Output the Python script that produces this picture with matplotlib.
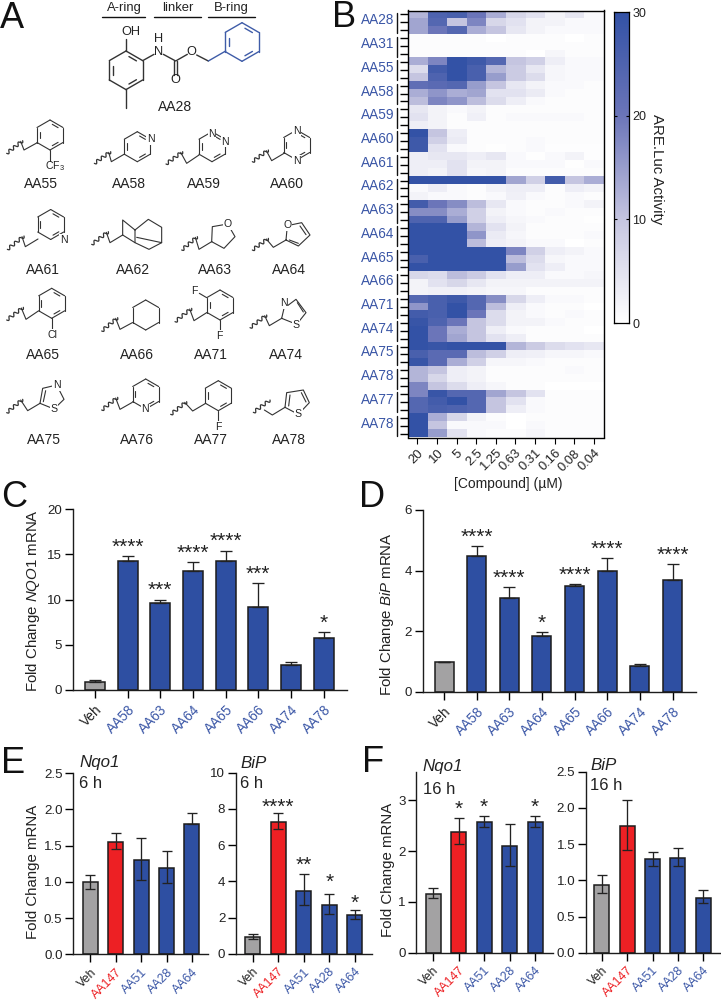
import numpy as np
import matplotlib
matplotlib.use('Agg')
import matplotlib.pyplot as plt
from matplotlib.colors import LinearSegmentedColormap

plt.rcParams['font.family'] = ['Liberation Sans', 'DejaVu Sans']
plt.rcParams['mathtext.fontset'] = 'custom'
plt.rcParams['mathtext.it'] = 'Liberation Sans:italic'
plt.rcParams['mathtext.rm'] = 'Liberation Sans'
plt.rcParams['text.color'] = '#222222'

W, H = 721, 1000
BLUE, RED, GREY = '#2E4FA2', '#ED2024', '#A3A2A3'
TXTBLUE = '#3A56A6'

# ---------- Heatmap data ----------
heat_labels = ['AA28', 'AA31', 'AA55', 'AA58', 'AA59', 'AA60', 'AA61', 'AA62', 'AA63',
               'AA64', 'AA65', 'AA66', 'AA71', 'AA74', 'AA75', 'AA78', 'AA77', 'AA78']
heat_conc = ['20', '10', '5', '2.5', '1.25', '0.63', '0.31', '0.16', '0.08', '0.04']
heat_values = [
    [12, 25, 26, 20, 13, 7, 5, 2, 4, 1], [14, 24, 10, 18, 7, 5, 2, 2, 1, 1], [14, 20, 24, 13, 10, 4, 2, 1, 1, 1],
    [.5, .5, .5, .5, 0, .5, .5, .5, 0, .5], [.5, .5, .5, .5, .5, .5, .5, .5, .5, .5], [.5, .5, .5, .5, .5, .5, 0, 1.5, .5, .5],
    [13, 18, 30, 28, 24, 10, 8, 3, 1, 1], [6, 27, 30, 26, 12, 9, 4, 1.5, 1, 1], [10, 25, 30, 26, 15, 9, 6, 1.5, 1, 1],
    [22, 23, 24, 15, 10, 4, 2, 1, 1, .5], [13, 16, 13, 14, 5, 5, 3.5, 1, .5, .5], [11, 18, 16, 11, 6, 3, 1, .5, .5, .5],
    [4, 2, 1, 2, .5, .5, .5, .5, .5, .5], [5, 2, .5, 2.5, .5, 1, 1, 1, 1, .5], [3, 2, .5, .5, .5, .5, .5, .5, .5, .5],
    [30, 10, 3, .5, .5, .5, .5, .5, .5, .5], [28, 8, 3.5, .5, .5, .5, 1, .5, .5, .5], [28, 5, 1, .5, .2, .5, 1, .3, .3, .3],
    [3, 4, 4, 3, 4, 1, .2, 1, 2, .3], [3, 3, 5, 2, 2, 1, 1, 1, .2, 1], [3, 2, 5, 1.5, 2, .5, .5, .5, .5, .5],
    [30, 30, 30, 30, 30, 14, 8, 27, 10, 13], [1, 3, 1, .5, 2, 3, 3, .5, 3, 2], [2, 1, 1, .5, 1, 2.5, 1, .5, 1, .5],
    [27, 20, 17, 11, 4, 1, .5, .5, 1, 2], [17, 17, 13, 8, 2, 1, .5, 1, .5, .5], [25, 25, 15, 8, 3, 1.5, 1, .5, .5, .2],
    [30, 30, 30, 12, 5, 2, .5, .5, .5, .5], [30, 30, 30, 16, 3.5, 1.5, .5, .5, .5, 1], [30, 30, 30, 11, 3, 2, 1, 1, 0, .5],
    [30, 30, 30, 30, 30, 18, 8, 3, 2, 1], [26, 30, 30, 30, 30, 11, 6, 1.5, 1, 1], [30, 30, 30, 30, 30, 15, 5, 3, 1, 1],
    [7, 6, 11, 9, 5, 3, 3, 1, 1, 1.5], [2, 5, 7, 4, 2, 2, 2, 2, 2, 2], [2, 2.5, 2.5, 2, 1.5, 1.5, .5, .5, .5, .5],
    [24, 26, 28, 24, 17, 7, 3, 1, 1, .5], [16, 26, 30, 24, 11, 3, 1, .5, .5, 0], [27, 26, 30, 20, 6, 2, 1, .5, 1, .5],
    [29, 25, 20, 10, 6, 2, 2, 1, .5, .5], [30, 20, 13, 10, 3, 1, .5, .5, .5, 0], [30, 20, 14, 10, 5, 3, .5, .5, .5, .5],
    [30, 29, 30, 30, 30, 12, 9, 6, 5, 4], [26, 23, 23, 11, 8, 3, 2.5, 1.5, 1.5, 1], [29, 23, 13, 8, 1.5, 1.5, 1, .5, .5, .5],
    [12, 10, 3, 2, .5, .5, .5, .5, 1, .5], [12, 7, 3, 2, .5, .5, .5, .5, .5, .5], [18, 10, 6, 3, 1.5, .5, .5, 0, 0, 0],
    [18, 29, 24, 24, 14, 10, 5, .5, .5, .5], [24, 27, 30, 24, 10, 5, 1, .5, .5, .5], [24, 26, 25, 24, 10, 3, 1, .5, .5, .5],
    [30, 13, 7, 2, .5, 0, .5, .5, .5, .5], [30, 10, 1, 1, 1, 0, 1, .5, .5, .5], [30, 15, 5, 1, .5, .5, 1.5, .5, .5, .5],
]

# ---------- Bar data ----------
c_names = ['Veh', 'AA58', 'AA63', 'AA64', 'AA65', 'AA66', 'AA74', 'AA78']
c_vals = [0.9, 14.2, 9.6, 13.2, 14.2, 9.2, 2.8, 5.7]
c_tops = [1.1, 14.8, 10.0, 14.1, 15.4, 11.8, 3.1, 6.4]
c_stars = ['', '****', '***', '****', '****', '***', '', '*']

d_names = ['Veh', 'AA58', 'AA63', 'AA64', 'AA65', 'AA66', 'AA74', 'AA78']
d_vals = [1.0, 4.5, 3.1, 1.85, 3.5, 4.0, 0.87, 3.68]
d_tops = [1.0, 4.8, 3.45, 1.97, 3.55, 4.42, 0.92, 4.22]
d_stars = ['', '****', '****', '*', '****', '****', '', '****']

ef_names = ['Veh', 'AA147', 'AA51', 'AA28', 'AA64']
e1_vals = [1.0, 1.55, 1.3, 1.19, 1.79]
e1_tops = [1.10, 1.67, 1.60, 1.42, 1.95]
e1_lows = [0.90, 1.45, 1.02, 0.98, 1.79]
e2_vals = [0.95, 7.27, 3.5, 2.68, 2.13]
e2_tops = [1.1, 7.77, 4.42, 3.3, 2.4]
e2_lows = [0.85, 6.9, 2.68, 2.18, 1.95]
e2_stars = ['', '****', '**', '*', '*']
f1_vals = [1.15, 2.37, 2.58, 2.1, 2.57]
f1_tops = [1.27, 2.65, 2.69, 2.54, 2.68]
f1_lows = [1.07, 2.13, 2.48, 1.7, 2.47]
f1_stars = ['', '*', '*', '', '*']
f2_vals = [0.93, 1.75, 1.29, 1.31, 0.76]
f2_tops = [1.07, 2.11, 1.39, 1.45, 0.87]
f2_lows = [0.83, 1.42, 1.2, 1.2, 0.68]

fig = plt.figure(figsize=(W / 100, H / 100), dpi=100, facecolor='white')


def ax_px(l, t, r, b, **kw):
    return fig.add_axes([l / W, 1 - b / H, (r - l) / W, (b - t) / H], **kw)


# overlay in pixel space for panel letters and chemical drawings
ov = fig.add_axes([0, 0, 1, 1], zorder=10)
ov.set_xlim(0, W)
ov.set_ylim(H, 0)
ov.axis('off')
ov.patch.set_alpha(0)


def T(x, y, s, size=9.6, color='#222222', ha='center', va='center', **kw):
    ov.text(x, y, s, fontsize=size, color=color, ha=ha, va=va, **kw)


for letter, x, y in [('A', 0, 28), ('B', 332, 27), ('C', 1, 507), ('D', 359, 507), ('E', 1, 773), ('F', 362, 772)]:
    T(x, y, letter, size=26, ha='left', va='baseline', color='#111111')

CH = '#333333'
LW = 0.8


def seg(pts, color=CH, lw=LW):
    pts = np.array(pts, float)
    ov.plot(pts[:, 0], pts[:, 1], color=color, lw=lw, solid_capstyle='round', solid_joinstyle='round')


def z1(*p):
    return [(x / 3, y / 3) for x, y in p]


def z2(*p):
    return [(x / 3, 230 + y / 3) for x, y in p]


def hexring(cx, cy, r=15, dbl=(0, 2, 4), color=CH, lw=LW):
    a = np.deg2rad(np.arange(6) * 60 - 90)
    vx, vy = cx + r * np.cos(a), cy + r * np.sin(a)
    for i in range(6):
        j = (i + 1) % 6
        seg([(vx[i], vy[i]), (vx[j], vy[j])], color, lw)
        if i in dbl:
            ax_, ay_ = vx[i] + .22 * (vx[j] - vx[i]), vy[i] + .22 * (vy[j] - vy[i])
            bx_, by_ = vx[j] + .22 * (vx[i] - vx[j]), vy[j] + .22 * (vy[i] - vy[j])
            f = .80
            seg([(cx + f * (ax_ - cx), cy + f * (ay_ - cy)), (cx + f * (bx_ - cx), cy + f * (by_ - cy))], color, lw)


def wavy(p, q):
    p, q = np.array(p), np.array(q)
    t = np.linspace(0, 1, 60)
    d = q - p
    n = np.array([-d[1], d[0]]) / np.hypot(*d)
    w = 1.6 * np.sin(t * 2 * np.pi * 3.5)
    seg(p + np.outer(t, d) + np.outer(w, n), lw=0.9)


def atom(x, y, s, size=7.6):
    ov.text(x, y, s, fontsize=size, color='#222222', ha='center', va='center',
            bbox=dict(fc='white', ec='none', pad=0.4), zorder=5)


# --- scaffold
for cx, w0, w1, s in [(124, 102, 145, 'A-ring'), (178, 154, 201, 'linker'), (231, 208, 255, 'B-ring')]:
    T(cx, 8, s, size=9.4)
    seg([(w0, 17.3), (w1, 17.3)], color='#111111', lw=1.0)
hexring(126, 70.3, 19.3, dbl=(0, 2, 4), lw=1.0)
seg(z1((378, 153), (378, 118)), lw=1.0)
seg(z1((378, 268), (378, 325)), lw=1.0)
seg(z1((428, 182), (462, 163)), lw=1.0)
seg(z1((490, 163), (527, 183), (562, 163)), lw=1.0)
seg(z1((522, 183), (522, 225)), lw=1.0)
seg(z1((532, 183), (532, 225)), lw=1.0)
seg(z1((590, 165), (625, 183)), lw=1.0)
seg(z1((625, 183), (677, 153)), color='#3F5CA8', lw=1.0)
hexring(242, 42, 19.3, dbl=(0, 2, 4), color='#3F5CA8', lw=1.0)
for x, y, s in [(130.7, 32.3, 'OH'), (158.5, 52.3, 'N'), (159, 39.3, 'H'), (175.7, 80, 'O'), (191.7, 51.7, 'O')]:
    T(x, y, s, size=9.2)
T(175, 106.7, 'AA28', size=10)


def frag(zf, w0, w1, c, a):
    wavy(*zf(w0, w1))
    seg(zf((w1[0] - 6, w1[1] + 2), c, a))


# --- first row
frag(z1, (20, 460), (68, 422), (72, 450), (112, 428)); hexring(50, 135, 15)
seg(z1((150, 450), (150, 482))); T(55, 165.7, 'CF$_3$', size=7.6)
frag(z1, (283, 490), (332, 455), (334, 485), (372, 463)); hexring(137.3, 146.7, 15); atom(150.5, 139, 'N')
frag(z1, (498, 492), (548, 455), (560, 490), (597, 465)); hexring(212, 146.7, 15, dbl=(0, 2, 4)); atom(212, 134, 'N'); atom(225, 141.7, 'N')
frag(z1, (757, 485), (805, 450), (815, 482), (852, 460)); hexring(296.7, 145, 15); atom(296.7, 130.5, 'N'); atom(296.7, 160.5, 'N')
for x, s in [(40.7, 'AA55'), (129.3, 'AA58'), (204, 'AA59'), (286.7, 'AA60')]:
    T(x, 184, s, size=10)

# --- second row
frag(z2, (22, 58), (72, 18), (76, 50), (114, 27)); hexring(50.7, 224.5, 15); atom(63.7, 240, 'N')
frag(z2, (275, 43), (325, 5), (330, 38), (368, 15))
seg(z2((368, 15), (368, -30), (405, 0), (405, 38), (447, 58), (485, 38), (485, -8), (445, -32), (405, 0)))
seg(z2((368, 15), (405, 38)))
seg(z2((410, 22), (485, 38)))
frag(z2, (545, 60), (592, 20), (597, 58), (635, 35))
seg(z2((635, 35), (672, 55), (705, 20), (683, -18), (637, -10), (635, 35))); atom(227.7, 224, 'O')
frag(z2, (757, 60), (805, 25), (820, 52), (858, 30))
seg(z2((858, 30), (895, 48), (930, 15), (905, -22), (862, -13), (858, 30)))
seg(z2((868, 30), (895, 40))); seg(z2((918, 14), (900, -12))); atom(287.5, 225.5, 'O')
for x, s in [(42.7, 'AA61'), (133.3, 'AA62'), (215, 'AA63'), (289.3, 'AA64')]:
    T(x, 269.5, s, size=10)

# --- third row
frag(z2, (20, 270), (70, 232), (78, 268), (115, 243)); hexring(51.7, 303.3, 15)
seg(z2((155, 265), (155, 298))); atom(52.7, 335, 'Cl')
frag(z2, (305, 303), (353, 263), (360, 298), (397, 278)); hexring(145.7, 315, 15, dbl=())
frag(z2, (525, 275), (575, 235), (582, 272), (620, 248)); hexring(220, 305, 15)
seg(z2((620, 203), (598, 190))); seg(z2((660, 270), (660, 300))); atom(194.3, 291, 'F'); atom(219.5, 336, 'F')
frag(z2, (750, 293), (800, 255), (808, 287), (845, 265))
seg(z2((845, 265), (852, 235), (888, 208), (918, 248), (890, 283), (845, 265)))
seg(z2((892, 218), (910, 246))); atom(284, 303.5, 'N'); atom(296, 324.5, 'S')
for x, s in [(42.7, 'AA65'), (136.7, 'AA66'), (210.7, 'AA71'), (286, 'AA74')]:
    T(x, 355, s, size=10)

# --- fourth row
frag(z2, (20, 548), (68, 508), (83, 542), (120, 520))
seg(z2((120, 520), (128, 475), (170, 465), (192, 508), (162, 537), (120, 520)))
seg(z2((130, 515), (137, 482))); atom(56.7, 385, 'N'); atom(54, 409, 'S')
frag(z2, (305, 540), (353, 502), (360, 538), (397, 517)); hexring(145.7, 394, 15); atom(145.3, 409.5, 'N')
frag(z2, (512, 553), (560, 515), (578, 543), (617, 520)); hexring(218.3, 395.7, 15)
seg(z2((655, 543), (655, 575))); atom(218.3, 427, 'F')
wavy(*z2((760, 547), (810, 510))); seg(z2((793, 540), (817, 555), (855, 532)))
seg(z2((855, 532), (860, 488), (910, 480), (928, 518), (895, 553), (855, 532)))
seg(z2((866, 528), (870, 495))); seg(z2((904, 488), (918, 516))); atom(298.5, 414, 'S')
for x, s in [(44, 'AA75'), (136.7, 'AA76'), (211, 'AA77'), (289.3, 'AA78')]:
    T(x, 440, s, size=10)

# ---------- Panel B ----------
cmap = LinearSegmentedColormap.from_list(
    'w2b', [(0, '#FFFFFF'), (.33, '#C6C6E1'), (.67, '#6B75B9'), (1, '#3352A6')])
axb = ax_px(407.6, 10.5, 603.5, 437.5)
data = np.array(heat_values)
im = axb.imshow(data, cmap=cmap, vmin=0, vmax=30, aspect='auto', interpolation='nearest')
for s in axb.spines.values():
    s.set_linewidth(1.0)
axb.set_xticks(range(len(heat_conc)))
axb.set_xticklabels(heat_conc, rotation=45, ha='right', rotation_mode='anchor', fontsize=9.4, color='#222222')
axb.tick_params(axis='x', length=4.5, width=0.8, pad=2.5)
axb.set_yticks(range(len(heat_values)))
axb.set_yticklabels([])
axb.tick_params(axis='y', length=5.5, width=1.0)
px_per_row = 427.0 / len(heat_values)
for i, name in enumerate(heat_labels):
    yc = 10.5 + px_per_row * (3 * i + 1.5)
    T(394.5, yc - 2, name, size=9.8, color=TXTBLUE, ha='right')
    seg([(397, yc - 9.5), (397, yc + 10.5)], color='#111111', lw=1.0)
T(508, 484, '[Compound] (\u00b5M)', size=10)

axc = ax_px(614, 12.3, 629, 323)
axc.imshow(np.linspace(30, 0, 256)[:, None], cmap=cmap, vmin=0, vmax=30, aspect='auto', extent=[0, 1, 0, 30])
axc.set_xticks([])
axc.set_yticks([0, 10, 20, 30])
axc.tick_params(axis='y', left=True, right=True, labelleft=False, labelright=True, direction='in',
                length=2, width=0.8, labelsize=9, pad=2.5, labelcolor='#222222')
for s in axc.spines.values():
    s.set_linewidth(0.9)
T(657, 169, 'ARE.Luc Activity', size=10.8, rotation=-90)


# ---------- Bar panels ----------
def barpanel(l, t, r, b, x0, dx, bw, names, vals, tops, lows=None, stars=None, ymax=None, yticks=None,
             ylabels=None, cap=4.2, lblsize=9.8, tl=5.5, gaps=None, tsize=9.6):
    ax = ax_px(l, t, r, b)
    ax.patch.set_alpha(0)
    ax.set_xlim((l - x0) / dx, (r - x0) / dx)
    ax.set_ylim(0, ymax)
    pos = np.arange(len(names))
    cols = [GREY if n == 'Veh' else RED if n == 'AA147' else BLUE for n in names]
    ax.bar(pos, vals, width=bw / dx, color=cols, edgecolor='#1c1c1c', linewidth=1.1, zorder=2)
    lo = np.array(vals) - np.array(lows if lows is not None else vals)
    hi = np.array(tops) - np.array(vals)
    ax.errorbar(pos, vals, yerr=[lo, hi], fmt='none', ecolor='#222222', elinewidth=0.95,
                capsize=cap, capthick=0.95, zorder=3)
    for s in ('top', 'right'):
        ax.spines[s].set_visible(False)
    for s in ('left', 'bottom'):
        ax.spines[s].set_linewidth(1.0)
        ax.spines[s].set_color('#1c1c1c')
    ax.set_yticks(yticks)
    if ylabels:
        ax.set_yticklabels(ylabels)
    ax.tick_params(axis='y', length=tl, width=1.0, labelsize=tsize, pad=2, labelcolor='#222222')
    ax.set_xticks(pos)
    ax.set_xticklabels(names, rotation=45, ha='right', rotation_mode='anchor', fontsize=lblsize)
    ax.tick_params(axis='x', length=tl, width=1.0, pad=3)
    for lab, n in zip(ax.get_xticklabels(), names):
        lab.set_color('#222222' if n == 'Veh' else RED if n == 'AA147' else TXTBLUE)
    if stars:
        for i, s in enumerate(stars):
            if s:
                g = (gaps[i] if gaps else 0) + 3.5
                ax.annotate(s, (i, tops[i]), xytext=(0, g * 0.72), textcoords='offset points',
                            ha='center', va='baseline', fontsize=15, color='#222222')
    return ax


barpanel(72.5, 509, 347, 690, 95, 32.65, 20, c_names, c_vals, c_tops, stars=c_stars, ymax=20,
         yticks=[0, 5, 10, 15, 20], tl=5.8)
barpanel(422.7, 510, 696, 692, 444, 32.65, 19, d_names, d_vals, d_tops, stars=d_stars, ymax=6,
         yticks=[0, 2, 4, 6], tl=5.8)
barpanel(73, 773, 208, 954.3, 90.3, 25.4, 15, ef_names, e1_vals, e1_tops, lows=e1_lows, ymax=2.5,
         yticks=[0, .5, 1, 1.5, 2, 2.5], ylabels=['0.0', '0.5', '1.0', '1.5', '2.0', '2.5'], cap=3.6, lblsize=8.9)
barpanel(235.7, 772.7, 372, 954, 252.7, 25.5, 15, ef_names, e2_vals, e2_tops, lows=e2_lows, stars=e2_stars, ymax=10,
         yticks=[0, 2, 4, 6, 8, 10], cap=3.6, lblsize=8.9, gaps=[0, -3, 0, 3, -2])
barpanel(416, 771.7, 553, 952.7, 433, 25.5, 15, ef_names, f1_vals, f1_tops, lows=f1_lows, stars=f1_stars, ymax=3.56,
         yticks=[0, 1, 2, 3], cap=3.6, lblsize=8.9)
barpanel(585.7, 771.7, 720, 952.7, 601.7, 25.4, 15, ef_names, f2_vals, f2_tops, lows=f2_lows, ymax=2.5,
         yticks=[0, .5, 1, 1.5, 2, 2.5], ylabels=['0.0', '0.5', '1.0', '1.5', '2.0', '2.5'], cap=3.6, lblsize=8.9)

T(33, 600.5, r'Fold Change $\mathit{NQO1}$ mRNA', size=10.8, rotation=90)
T(387, 614, r'Fold Change $\mathit{BiP}$ mRNA', size=10.8, rotation=90)
T(33, 871.5, 'Fold Change mRNA', size=10.8, rotation=90)
T(388, 870, 'Fold Change mRNA', size=10.8, rotation=90)

for x, y, s in [(79, 763, 'Nqo1'), (240, 763, 'BiP'), (422.7, 767, 'Nqo1'), (590, 766, 'BiP')]:
    T(x, y, s, size=12.2, ha='left', style='italic')
for x, y, s in [(79, 783, '6 h'), (240, 783, '6 h'), (422.7, 789, '16 h'), (590, 786, '16 h')]:
    T(x, y, s, size=12, ha='left')

fig.savefig('out.png', dpi=100, facecolor='white')
